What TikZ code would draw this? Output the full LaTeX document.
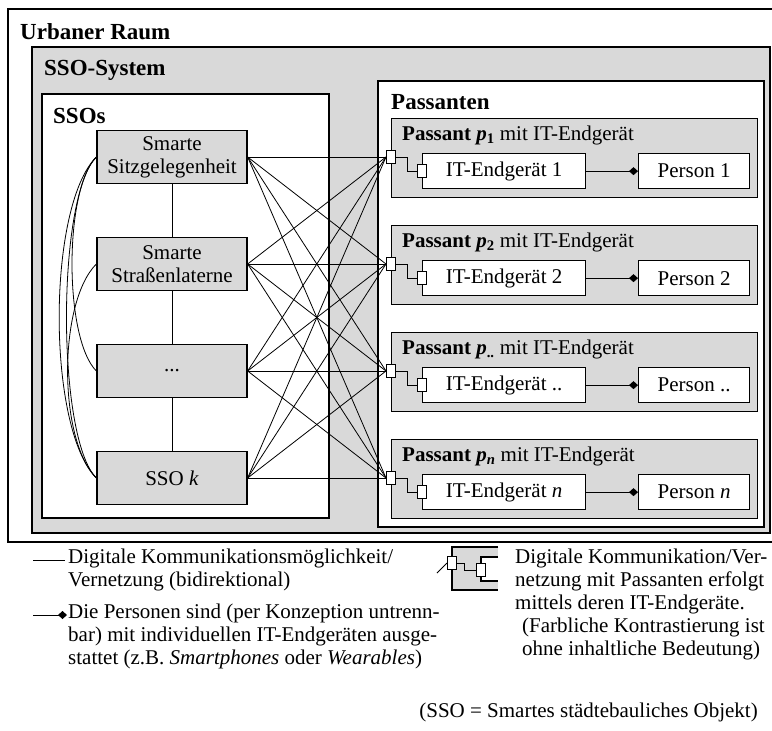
\documentclass[tikz,border=0pt]{standalone}
\usepackage{fontspec}
\setmainfont{Liberation Serif}
\usetikzlibrary{arrows.meta}

\begin{document}
\begin{tikzpicture}[x=1pt, y=-1pt,
    every node/.style={font=\fontsize{21}{23}\selectfont, inner sep=0pt},
    frame/.style={draw, line width=1.3pt},
    title/.style={anchor=west, font=\fontsize{23}{24}\selectfont\bfseries},
    sso/.style={draw, line width=1.3pt, fill=black!15, minimum width=150pt,
                minimum height=53pt, align=center},
    pass/.style={draw, line width=1.3pt, fill=black!15, minimum width=366pt,
                 minimum height=79pt, anchor=north west},
    dev/.style={draw, line width=1.3pt, fill=white, minimum height=35pt, anchor=north west},
    port/.style={draw, line width=1pt, fill=white, minimum width=9pt, minimum height=13pt},
    link/.style={line width=0.8pt},
    owns/.style={line width=1pt, -{Diamond[length=9pt,width=8pt]}},
    legend/.style={anchor=north west, align=left}]

  \useasboundingbox (0,0) rectangle (772,731);

  \draw[frame] (8,9) rectangle (776,542);
  \node[title] (raum) at (20,32) {Urbaner Raum};
  \draw[frame, fill=black!15] (32,47) rectangle (770,533);
  \node[title] (system) at (44,70) {SSO-System};
  \draw[frame, fill=white] (42,94) rectangle (329,518);
  \node[title] (ssos) at (53,116) {SSOs};
  \draw[frame, fill=white] (378,81) rectangle (764,527);
  \node[title] (passanten) at (391,102) {Passanten};

  \node[sso] (s1) at (172,157) {Smarte\\Sitzgelegenheit};
  \node[sso] (s2) at (172,264) {Smarte\\Straßenlaterne};
  \node[sso] (s3) at (172,371) {...};
  \node[sso] (s4) at (172,478) {SSO \textit{k}};

  \draw[link] (s1) -- (s2) (s2) -- (s3) (s3) -- (s4);
  \draw[link] (s1.west) to[out=225,in=135,looseness=0.56] (s4.west);
  \draw[link] (s1.west) to[out=225,in=135,looseness=0.45] (s4.west);
  \draw[link] (s1.west) to[out=225,in=135,looseness=0.55] (s3.west);
  \draw[link] (s2.west) to[out=225,in=135,looseness=0.65] (s4.west);

  \foreach \i/\y/\sub/\num in {1/118/1/1, 2/225/2/2, 3/332/{..}/{..},
                               4/439/\textit{n}/\textit{n}} {
    \node[pass] (pb\i) at (391,\y) {};
    \node[anchor=west] (pt\i) at (402,\y+17)
      {\textbf{Passant \textit{p}\textsubscript{\sub}} mit IT-Endgerät};
    \node[dev, minimum width=163pt] (it\i) at (422,\y+35) {IT-Endgerät \num};
    \node[dev, minimum width=111pt] (pe\i) at (638,\y+35) {Person \num};
    \node[port] (op\i) at (391,\y+39) {};
    \node[port] (ip\i) at (it\i.west) {};
    \draw[link] (op\i.east) -- ++(11,0) |- (ip\i.west);
    \draw[owns] (it\i) -- (pe\i);
  }

  \foreach \a in {1,...,4}
    \foreach \b in {1,...,4}
      \draw[link] (s\a.east) -- (op\b.west);

  \coordinate (k1) at (33,560);
  \coordinate (k2) at (65,560);
  \draw[link] (k1) -- (k2);
  \node[legend] (lg1) at (68,549)
    {Digitale Kommunikationsmöglichkeit/\\Vernetzung (bidirektional)};
  \coordinate (d1) at (33,615);
  \coordinate (d2) at (67,615);
  \draw[owns] (d1) -- (d2);
  \node[legend] (lg2) at (68,604)
    {Die Personen sind (per Konzeption untrenn-\\bar) mit individuellen IT-Endgeräten ausge-\\stattet (z.B. \textit{Smartphones} oder \textit{Wearables})};

  \fill[black!15] (452,547) rectangle (498,590);
  \draw[frame] (498,547) -- (452,547) -- (452,590) -- (498,590);
  \draw[frame, fill=white] (498,557) -- (481,557) -- (481,581) -- (498,581);
  \node[port] (ops) at (452,563) {};
  \node[port] (ips) at (481,570) {};
  \coordinate (sl) at (437,573);
  \draw[link] (sl) -- (ops.west);
  \draw[link] (ops.east) -- ++(7,0) |- (ips.west);
  \node[legend] (lg3) at (515,549)
    {Digitale Kommunikation/Ver-\\netzung mit Passanten erfolgt\\mittels deren IT-Endgeräte.};
  \node[legend] (lg4) at (522,618)
    {(Farbliche Kontrastierung ist\\ohne inhaltliche Bedeutung)};
  \node[anchor=east] (lg5) at (758,712) {(SSO = Smartes städtebauliches Objekt)};
\end{tikzpicture}
\end{document}
